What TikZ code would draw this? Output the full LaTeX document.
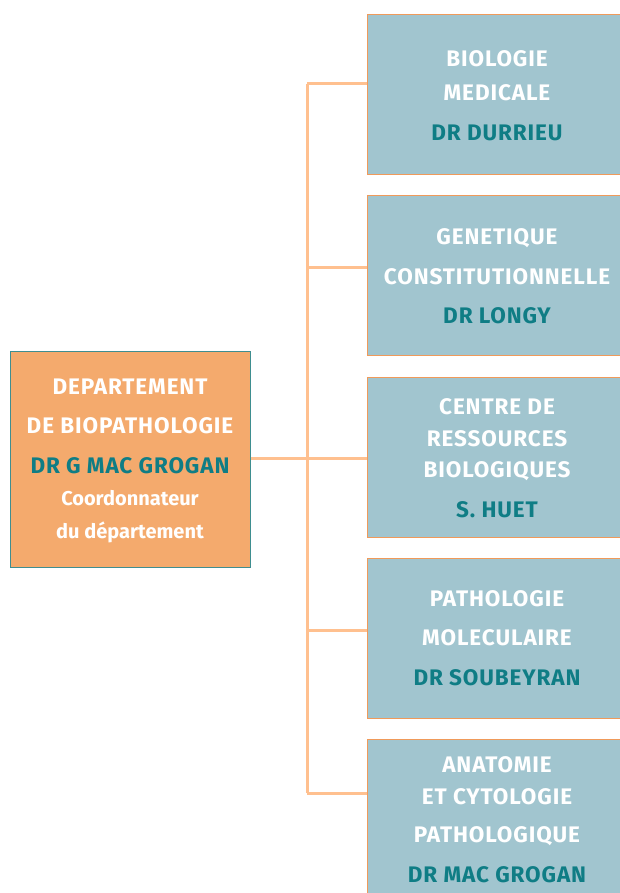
\documentclass[tikz,border=0pt]{standalone}
\usepackage{fontspec}
\setmainfont{Fira Sans}
\newfontfamily\capsfont{Fira Sans}[LetterSpace=4]
\definecolor{deptfill}{HTML}{F4AA6D}
\definecolor{deptedge}{HTML}{3E8E90}
\definecolor{unitfill}{HTML}{A1C5CF}
\definecolor{unitedge}{HTML}{F09A5A}
\definecolor{linkline}{HTML}{FFC08F}
\definecolor{headname}{HTML}{0F7D85}
\begin{document}
\begin{tikzpicture}[x=1pt,y=-1pt,
  dept/.style={draw=deptedge,line width=1pt,fill=deptfill,minimum width=240pt,minimum height=216pt,inner sep=0pt},
  unit/.style={draw=unitedge,line width=1pt,fill=unitfill,minimum width=260pt,minimum height=160pt,inner sep=0pt},
  link/.style={draw=linkline,line width=3pt},
  title/.style={text=white,font=\capsfont\fontsize{22.5}{22.5}\selectfont\bfseries,text height=15.5pt,text depth=0pt,inner sep=0pt},
  head/.style={title,text=headname},
  note/.style={text=white,font=\fontsize{20}{20}\selectfont\bfseries,text height=14pt,text depth=0pt,inner sep=0pt}]
\useasboundingbox (0,0) rectangle (620,893);
\begin{scope}
\clip (0,0) rectangle (620,893);
% department box
\node[dept] (dept) at (130,459) {};
% unit boxes
\node[unit] (u1) at (497,95) {};
\node[unit] (u2) at (497,275.5) {};
\node[unit] (u3) at (497,457) {};
\node[unit] (u4) at (497,638) {};
\node[unit] (u5) at (497,819) {};
% connectors
\coordinate (t1) at (307,84);
\coordinate (t2) at (307,267);
\coordinate (t4) at (307,630);
\coordinate (t5) at (307,793);
\draw[link] (t1) -- (t5);
\draw[link] (dept.east |- 0,458) -- (u3.west |- 0,458);
\draw[link] (t1) -- (u1.west |- t1);
\draw[link] (t2) -- (u2.west |- t2);
\draw[link] (t4) -- (u4.west |- t4);
\draw[link] (t5) -- (u5.west |- t5);
% department text
\node[title] (d1) at (130,387) {DEPARTEMENT};
\node[title] (d2) at (130,426) {DE BIOPATHOLOGIE};
\node[head] (d3) at (130,466) {DR G MAC GROGAN};
\node[note] (d4) at (130,498) {Coordonnateur};
\node[note] (d5) at (130,531) {du département};
% unit texts
\node[title] (a1) at (497,59) {BIOLOGIE};
\node[title] (a2) at (497,93) {MEDICALE};
\node[head] (a3) at (497,133) {DR DURRIEU};
\node[title] (b1) at (497,237) {GENETIQUE};
\node[title] (b2) at (497,277) {CONSTITUTIONNELLE};
\node[head] (b3) at (497,316) {DR LONGY};
\node[title] (c1) at (497,407) {CENTRE DE};
\node[title] (c2) at (497,439) {RESSOURCES};
\node[title] (c3) at (497,470) {BIOLOGIQUES};
\node[head] (c4) at (497,510) {S. HUET};
\node[title] (e1) at (497,599) {PATHOLOGIE};
\node[title] (e2) at (497,638) {MOLECULAIRE};
\node[head] (e3) at (497,678) {DR SOUBEYRAN};
\node[title] (f1) at (497,765) {ANATOMIE};
\node[title] (f2) at (497,797) {ET CYTOLOGIE};
\node[title] (f3) at (497,835) {PATHOLOGIQUE};
\node[head] (f4) at (497,875) {DR MAC GROGAN};
\end{scope}
\end{tikzpicture}
\end{document}
